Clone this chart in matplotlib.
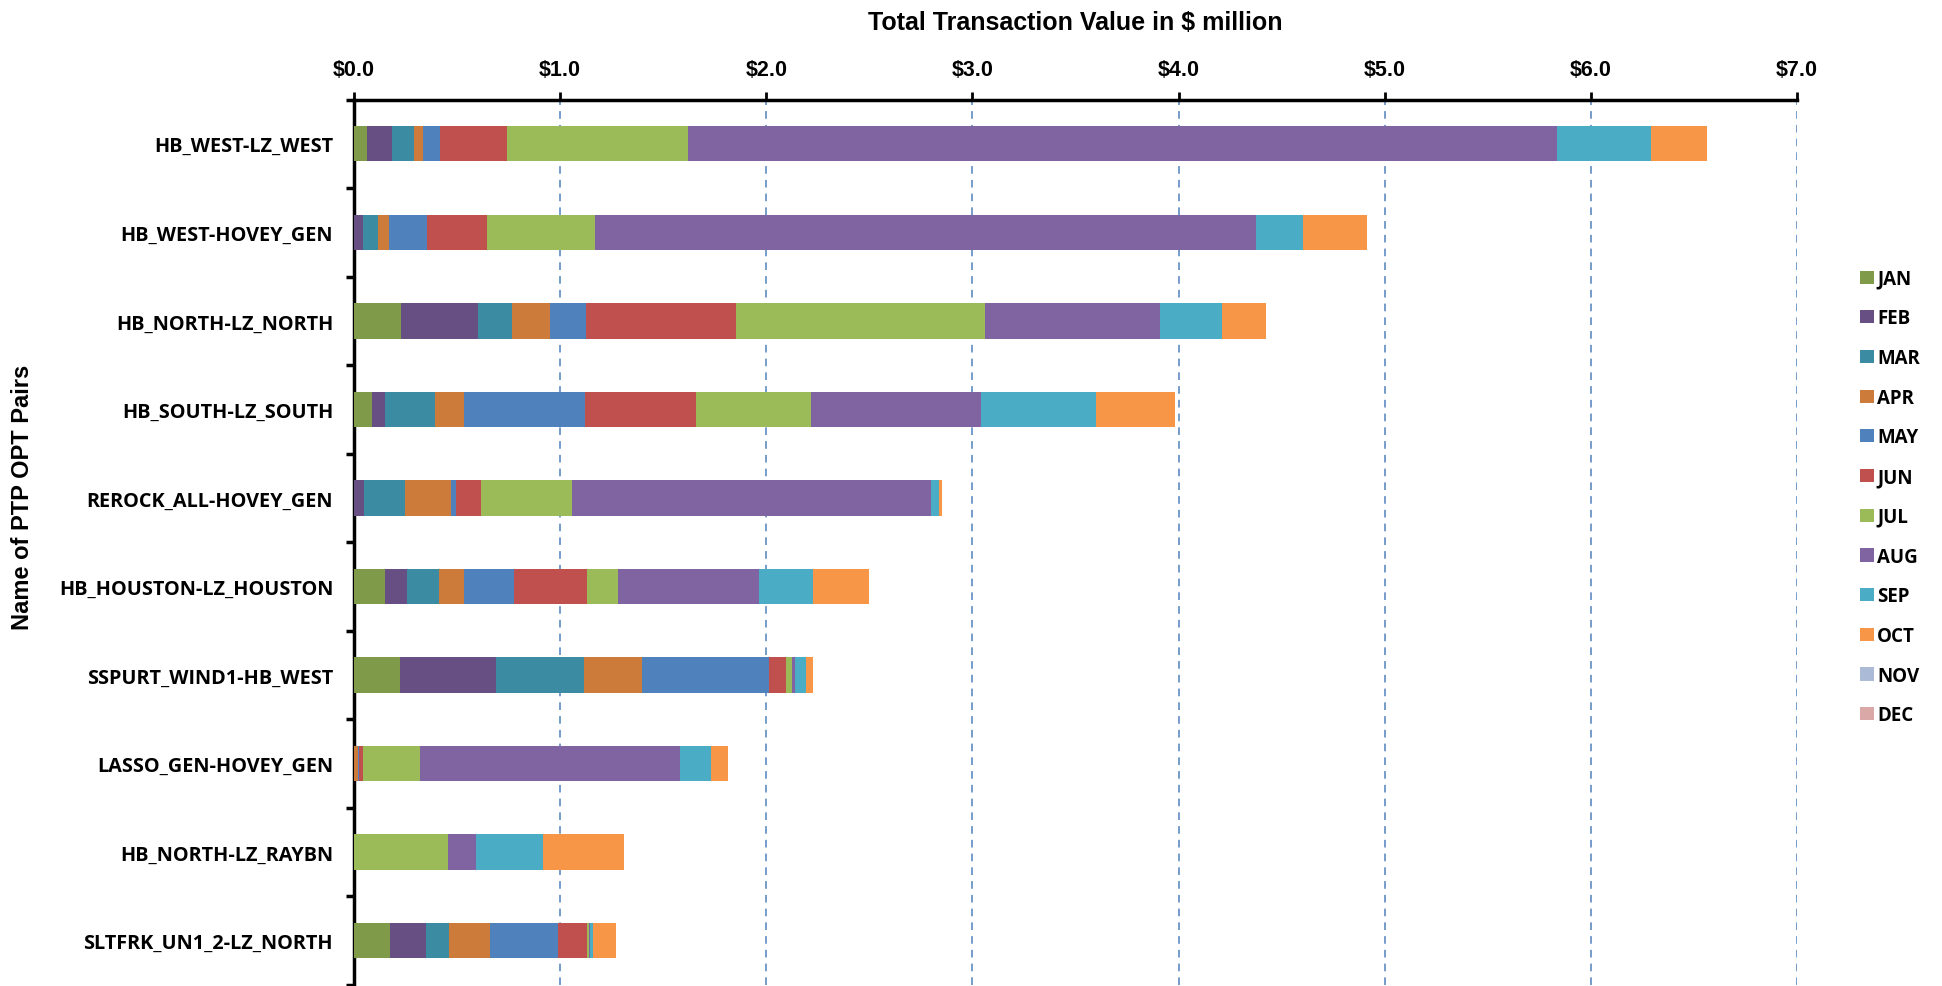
import matplotlib
matplotlib.use("Agg")
import matplotlib.pyplot as plt
from matplotlib.patches import Patch
import numpy as np

# PTP OPT pairs, top to bottom
pairs = ['HB_WEST-LZ_WEST', 'HB_WEST-HOVEY_GEN', 'HB_NORTH-LZ_NORTH', 'HB_SOUTH-LZ_SOUTH',
         'REROCK_ALL-HOVEY_GEN', 'HB_HOUSTON-LZ_HOUSTON', 'SSPURT_WIND1-HB_WEST',
         'LASSO_GEN-HOVEY_GEN', 'HB_NORTH-LZ_RAYBN', 'SLTFRK_UN1_2-LZ_NORTH']

# monthly transaction value, $ million
jan = [0.063, 0.0, 0.226, 0.085, 0.0, 0.150, 0.222, 0.0, 0.0, 0.174]
feb = [0.122, 0.044, 0.375, 0.065, 0.050, 0.108, 0.468, 0.0, 0.0, 0.174]
mar = [0.104, 0.071, 0.164, 0.245, 0.195, 0.156, 0.426, 0.0, 0.0, 0.114]
apr = [0.045, 0.054, 0.187, 0.141, 0.226, 0.120, 0.283, 0.018, 0.0, 0.198]
may = [0.082, 0.185, 0.175, 0.585, 0.023, 0.240, 0.612, 0.008, 0.0, 0.330]
jun = [0.326, 0.290, 0.726, 0.537, 0.124, 0.354, 0.084, 0.018, 0.0, 0.138]
jul = [0.880, 0.525, 1.209, 0.557, 0.440, 0.151, 0.030, 0.276, 0.456, 0.012]
aug = [4.216, 3.207, 0.848, 0.828, 1.740, 0.684, 0.012, 1.261, 0.138, 0.006]
sep = [0.455, 0.230, 0.301, 0.556, 0.039, 0.264, 0.054, 0.150, 0.324, 0.012]
oct_ = [0.272, 0.310, 0.212, 0.382, 0.015, 0.270, 0.036, 0.084, 0.390, 0.115]
nov = [0.0] * 10
dec = [0.0] * 10

months = ['JAN', 'FEB', 'MAR', 'APR', 'MAY', 'JUN', 'JUL', 'AUG', 'SEP', 'OCT', 'NOV', 'DEC']
series = [jan, feb, mar, apr, may, jun, jul, aug, sep, oct_, nov, dec]
colors = ['#7f9a48', '#674f83', '#3b8ca3', '#cd7b3a', '#4f81bd', '#c0504d',
          '#9bbb59', '#8064a2', '#4bacc6', '#f79646', '#aabad7', '#d9a8a7']

narrow = ['Liberation Sans', 'DejaVu Sans']
wide = ['Open Sans', 'DejaVu Sans']

fig = plt.figure(figsize=(19.42, 9.87), dpi=100)
ax = fig.add_axes([354 / 1942, 1 - 986 / 987, (1797 - 354) / 1942, (986 - 100.5) / 987])

y = np.arange(len(pairs))
left = np.zeros(len(pairs))
for name, vals, c in zip(months, series, colors):
    vals = np.array(vals)
    ax.barh(y, vals, left=left, height=0.4, color=c, label=name, zorder=3)
    left += vals

ax.set_xlim(0, 7)
ax.set_ylim(len(pairs) - 0.5, -0.5)

# gridlines
for gx in range(1, 8):
    ax.axvline(gx, color='#4f81bd', linestyle=(0, (5, 4)), linewidth=1.1, zorder=1)

# axes styling: x on top, thick black top/left spines
ax.xaxis.tick_top()
ax.xaxis.set_label_position('top')
ax.set_xticks(range(8))
ax.set_xticklabels([f'${v:.1f}' for v in range(8)], fontfamily=narrow,
                   fontweight='bold', fontsize=15.5)
ax.tick_params(axis='x', which='major', length=6, width=2, color='black', pad=8)
ax.set_xlabel('Total Transaction Value in $ million', fontfamily=narrow,
              fontweight='bold', fontsize=18, labelpad=22)

ax.set_yticks(y)
ax.set_yticklabels(pairs, fontfamily=wide, fontweight='bold', fontsize=14.3)
ax.tick_params(axis='y', which='major', length=0, pad=15)
ax.set_yticks(np.arange(-0.5, len(pairs) + 0.5, 1), minor=True)
ax.tick_params(axis='y', which='minor', length=6, width=2.5, color='black')

for s in ['right', 'bottom']:
    ax.spines[s].set_visible(False)
for s in ['top', 'left']:
    ax.spines[s].set_linewidth(2.5)
    ax.spines[s].set_color('black')

fig.text(23 / 1942, 1 - 497 / 987, 'Name of PTP OPT Pairs', rotation=90,
         ha='center', va='center', fontfamily=narrow, fontweight='bold', fontsize=17)

handles = [Patch(facecolor=c, edgecolor='none') for c in colors]
leg = fig.legend(handles, months, loc='center left',
                 bbox_to_anchor=(1851 / 1942, 1 - 498 / 987),
                 frameon=False, handlelength=0.7, handleheight=0.7,
                 handletextpad=0.2, labelspacing=1.05, borderpad=0,
                 prop={'family': wide, 'weight': 'bold', 'size': 13.5})

fig.savefig('out.png', dpi=100)
